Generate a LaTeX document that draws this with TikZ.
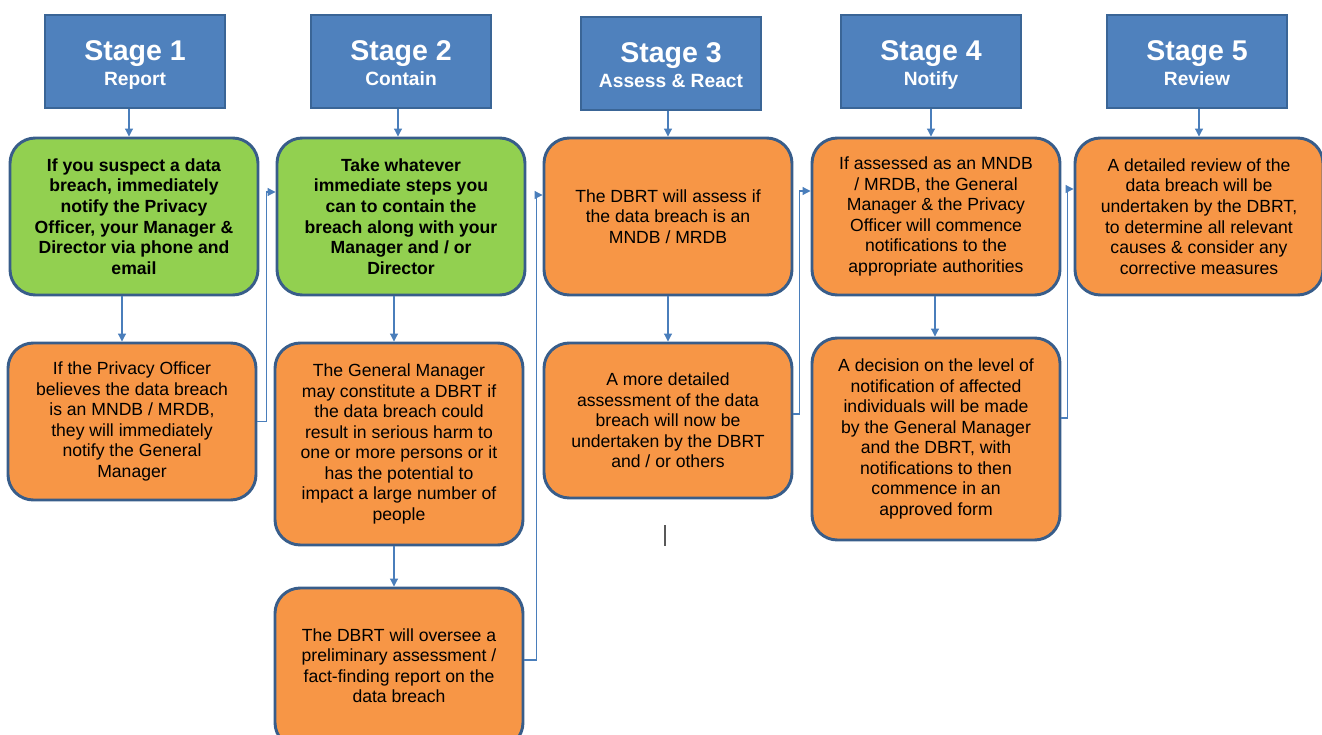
\documentclass[tikz,border=0pt]{standalone}
\usepackage{fontspec}
\setmainfont{Liberation Sans}
\usetikzlibrary{arrows.meta,calc}
\definecolor{hdrfill}{HTML}{4F81BD}
\definecolor{hdrline}{HTML}{3A6596}
\definecolor{boxline}{HTML}{385D8A}
\definecolor{greenfill}{HTML}{92D050}
\definecolor{orangefill}{HTML}{F79646}
\definecolor{connline}{HTML}{4A7EBB}
\begin{document}
\begin{tikzpicture}[x=0.75pt,y=-0.75pt,
  hdr/.style={draw=hdrline,line width=1.5pt,fill=hdrfill,text=white,
    minimum width=135pt,minimum height=69.75pt,inner sep=0pt,align=center,
    font=\bfseries},
  card/.style={draw=boxline,line width=2.2pt,rounded corners=19pt,
    minimum width=186pt,inner sep=0pt,align=center,text=black,
    font=\fontsize{13.2}{15.4}\selectfont},
  gcard/.style={card,fill=greenfill,font=\fontsize{13.2}{15.4}\selectfont\bfseries},
  ocard/.style={card,fill=orangefill},
  conn/.style={draw=connline,line width=0.8pt,-{Triangle[length=6pt,width=6pt]}}
]
\useasboundingbox (0,0) rectangle (1322,735);
\newcommand{\hd}[2]{\raisebox{-3pt}[\height][\depth]{\begin{tabular}{@{}c@{}}{\fontsize{21.4}{24}\selectfont #1}\\[5.25pt]{\fontsize{14.4}{16}\selectfont #2}\end{tabular}}}
% headers
\node[hdr] (H1) at (135,61.5) {\hd{Stage 1}{Report}};
\node[hdr] (H2) at (401,61.5) {\hd{Stage 2}{Contain}};
\node[hdr] (H3) at (671,63.5) {\hd{Stage 3}{Assess \& React}};
\node[hdr] (H4) at (931,61.5) {\hd{Stage 4}{Notify}};
\node[hdr] (H5) at (1197,61.5) {\hd{Stage 5}{Review}};
% row 1
\node[gcard,minimum height=117.75pt] (B1) at (134,216.5) {If you suspect a data\\breach, immediately\\notify the Privacy\\Officer, your Manager \&\\Director via phone and\\email};
\node[gcard,minimum height=117.75pt] (B2) at (401,216.5) {Take whatever\\immediate steps you\\can to contain the\\breach along with your\\Manager and / or\\Director};
\node[ocard,minimum height=117.75pt] (B3) at (668,216.5) {The DBRT will assess if\\the data breach is an\\MNDB / MRDB};
\node[ocard,minimum height=117.75pt] (B4) at (936,216.5) {If assessed as an MNDB\\/ MRDB, the General\\Manager \& the Privacy\\Officer will commence\\notifications to the\\appropriate authorities};
\node[ocard,minimum height=117.75pt] (B5) at (1199,216.5) {A detailed review of the\\data breach will be\\undertaken by the DBRT,\\to determine all relevant\\causes \& consider any\\corrective measures};
% row 2
\node[ocard,minimum height=117.75pt] (C1) at (132,421.5) {If the Privacy Officer\\believes the data breach\\is an MNDB / MRDB,\\they will immediately\\notify the General\\Manager};
\node[ocard,minimum height=151.5pt] (C2) at (399,444) {The General Manager\\may constitute a DBRT if\\the data breach could\\result in serious harm to\\one or more persons or it\\has the potential to\\impact a large number of\\people};
\node[ocard,minimum height=116.25pt] (C3) at (668,420.5) {A more detailed\\assessment of the data\\breach will now be\\undertaken by the DBRT\\and / or others};
\node[ocard,minimum height=151.5pt] (C4) at (936,439) {A decision on the level of\\notification of affected\\individuals will be made\\by the General Manager\\and the DBRT, with\\notifications to then\\commence in an\\approved form};
% row 3
\node[ocard,minimum height=120pt] (D2) at (399,668) {\raisebox{3pt}{\begin{tabular}{@{}c@{}}The DBRT will oversee a\\preliminary assessment /\\fact-finding report on the\\data breach\end{tabular}}};
% header arrows
\draw[conn] ([xshift=-4.5pt]H1.south) -- ([xshift=-4.5pt]H1.south |- B1.north);
\draw[conn] ([xshift=-2.25pt]H2.south) -- ([xshift=-2.25pt]H2.south |- B2.north);
\draw[conn] ([xshift=-2.25pt]H3.south) -- ([xshift=-2.25pt]H3.south |- B3.north);
\draw[conn] (H4.south) -- (H4.south |- B4.north);
\draw[conn] ([xshift=1.5pt]H5.south) -- ([xshift=1.5pt]H5.south |- B5.north);
% vertical arrows
\draw[conn] ([xshift=-9pt]B1.south) -- ([xshift=-9pt]B1.south |- C1.north);
\draw[conn] ([xshift=-5.25pt]B2.south) -- ([xshift=-5.25pt]B2.south |- C2.north);
\draw[conn] ([xshift=-3.75pt]C2.south) -- ([xshift=-3.75pt]C2.south |- D2.north);
\draw[conn] (B3.south) -- (B3.south |- C3.north);
\draw[conn] ([xshift=-0.75pt]B4.south) -- ([xshift=-0.75pt]B4.south |- C4.north);
% cross-column connectors
\draw[conn] (C1.east) -- ++(9,0) |- (B2.west |- 0,192);
\draw[conn] (D2.east |- 0,660) -- ++(12,0) |- (B3.west |- 0,195);
\draw[conn] (C3.east |- 0,414) -- ++(6,0) |- (B4.west |- 0,191);
\draw[conn] (C4.east |- 0,418) -- ++(6,0) |- (B5.west |- 0,189);
% stray cursor mark
\draw[gray!70!black,line width=1.4pt] (665,525) -- (665,546);
\end{tikzpicture}
\end{document}
